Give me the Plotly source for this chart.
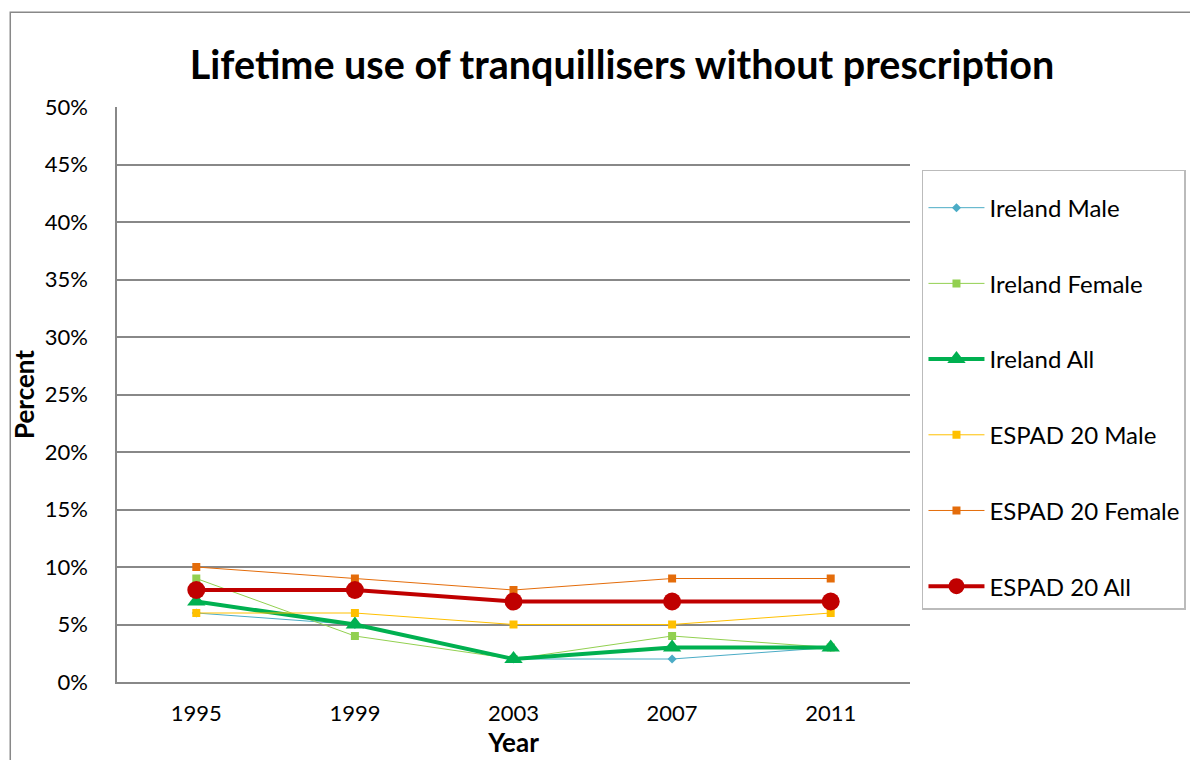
import plotly.graph_objects as go

years = ["1995", "1999", "2003", "2007", "2011"]
ireland_male = [6, 5, 2, 2, 3]
ireland_female = [9, 4, 2, 4, 3]
ireland_all = [7, 5, 2, 3, 3]
espad_male = [6, 6, 5, 5, 6]
espad_female = [10, 9, 8, 9, 9]
espad_all = [8, 8, 7, 7, 7]
y_ticks = [0, 5, 10, 15, 20, 25, 30, 35, 40, 45, 50]
y_tick_labels = [f"{v}%" for v in y_ticks]

series = [
    ("Ireland Male", ireland_male, "#4BACC6", 1, "diamond", 7),
    ("Ireland Female", ireland_female, "#92D050", 1, "square", 8),
    ("Ireland All", ireland_all, "#00B050", 4, "triangle-up", 16),
    ("ESPAD 20 Male", espad_male, "#FFC000", 1, "square", 8),
    ("ESPAD 20 Female", espad_female, "#E46C0A", 1, "square", 8),
    ("ESPAD 20 All", espad_all, "#C00000", 4, "circle", 18),
]

FONT = "Lato"
fig = go.Figure()
for i, (name, vals, col, lw, sym, ms) in enumerate(series):
    fig.add_trace(go.Scatter(
        x=years, y=vals, name=name, mode="lines+markers",
        line=dict(color=col, width=lw),
        marker=dict(symbol=sym, size=ms, color=col),
        legendgroup=f"g{i}",
    ))

OFF = 8  # page body margin
W, H = 1190, 752
L, T = 115 - OFF, 107 - OFF
R = W - (910 - OFF)
B = H - (684 - OFF)
pw, ph = W - L - R, H - T - B

def px(x):
    return (x - OFF - L) / pw

def py(y):
    return (H - B - (y - OFF)) / ph

fig.update_layout(
    width=W, height=H,
    margin=dict(l=L, r=R, t=T, b=B),
    paper_bgcolor="white", plot_bgcolor="white",
    font=dict(family=FONT, size=22, color="black"),
    title=dict(text="<b>Lifetime use of tranquillisers without prescription</b>",
               x=(622 - OFF) / W, xanchor="center", y=1 - (65 - OFF) / H, yanchor="middle",
               font=dict(size=39.5, family=FONT, color="black")),
    xaxis=dict(type="category", range=[-0.5, 4.5], showgrid=False,
               showline=True, linecolor="#888888", linewidth=1.5,
               ticks="", tickfont=dict(size=22), ticklabelstandoff=11,
               title=dict(text="<b>Year</b>", font=dict(size=26), standoff=4)),
    yaxis=dict(range=[0, 50], tickvals=y_ticks, ticktext=y_tick_labels,
               showgrid=True, gridcolor="#888888", gridwidth=1.5,
               showline=True, linecolor="#888888", linewidth=1.5,
               zeroline=False, ticks="", tickfont=dict(size=22), ticklabelstandoff=23,
               title=dict(text="<b>Percent</b>", font=dict(size=26), standoff=6)),
    legend=dict(x=px(922), xanchor="left", y=py(170), yanchor="top",
                bordercolor="#BBBBBB", borderwidth=1.5, bgcolor="white",
                font=dict(size=24, family=FONT), tracegroupgap=41.5,
                itemwidth=56,
                title=dict(text=" ", font=dict(size=11))),
    showlegend=True,
)

# outer chart border
fig.add_shape(type="rect", xref="paper", yref="paper",
              x0=px(8), x1=px(1230),
              y0=py(800), y1=py(12),
              line=dict(color="#888888", width=1.5), fillcolor="rgba(0,0,0,0)",
              layer="below")

fig.write_html("out.html")
